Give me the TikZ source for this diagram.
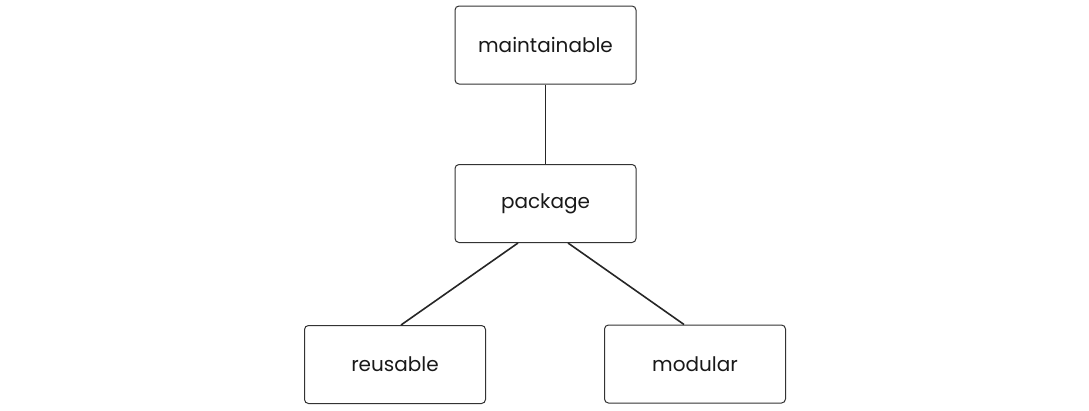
\documentclass[tikz,border=0pt]{standalone}
\usepackage{fontspec}
\setmainfont{Poppins}
\usetikzlibrary{positioning}
\tikzstyle{block} = [rectangle, draw=black!80, line width=1pt, fill=white,
    minimum width=181pt, minimum height=78pt, rounded corners=4pt,
    font=\fontsize{20}{24}\selectfont, text=black!90]
\tikzstyle{line} = [draw, line width=1.6pt, black!85]

\begin{document}
\begin{tikzpicture}[x=1pt, y=-1pt]
    \useasboundingbox (0,0) rectangle (1089,410);
    % Place nodes
    \node [block] (maint) at (545.5,45) {maintainable};
    \node [block, below of=maint, node distance=158.5pt] (package) {package};
    \node [block, below of=package, node distance=161pt, xshift=-150.5pt] (reuse) {reusable};
    \node [block, below of=package, node distance=160.5pt, xshift=149.5pt] (modular) {modular};
    % Draw edges
    \path [line] (maint) -- (package);
    \path [line] ([xshift=-27.5pt]package.south) -- ([xshift=6pt]reuse.north);
    \path [line] ([xshift=22.5pt]package.south) -- ([xshift=-11pt]modular.north);
\end{tikzpicture}
\end{document}
